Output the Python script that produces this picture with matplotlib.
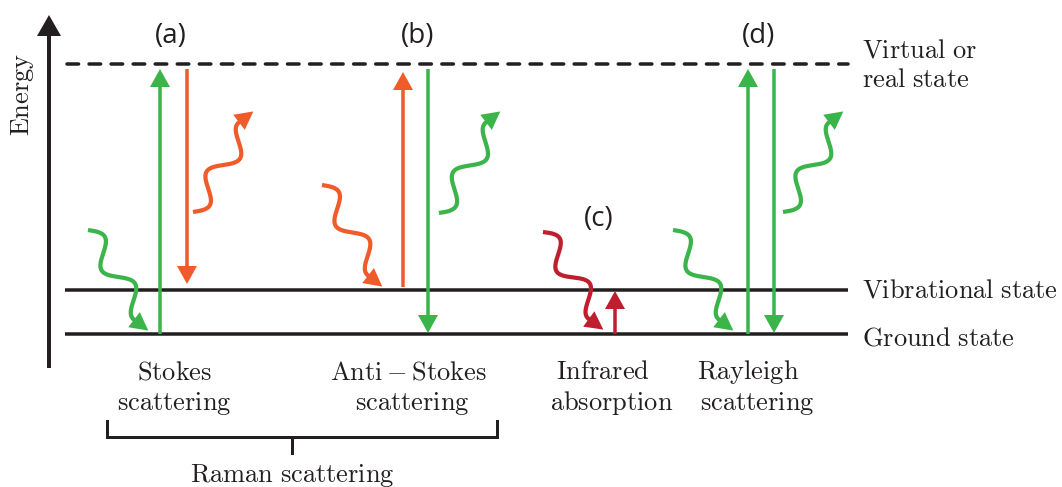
import numpy as np
import matplotlib
matplotlib.use('Agg')
import matplotlib.pyplot as plt
from matplotlib.patches import Polygon

plt.rcParams['mathtext.fontset'] = 'cm'

# colours
GREEN = '#3bb44a'
ORANGE = '#f15a29'
RED = '#be1e2d'
BLACK = '#231f20'

# energy levels (pixel rows) and their labels
LEVEL_Y = [64, 290, 334]
LEVEL_DASHED = [True, False, False]
LEVEL_LABELS = [['Virtual or', 'real state'], ['Vibrational state'], ['Ground state']]
LEVEL_LABEL_Y = [[57, 87], [297], [345]]
LEVEL_X0, LEVEL_X1 = 65, 848

# process letters
PANEL_LABELS = ['(a)', '(b)', '(c)', '(d)']
PANEL_X = [171, 418, 599, 759]
PANEL_Y = [36, 36, 219, 36]

# straight transitions: x, from, to, colour
TRANS_X = [160, 187, 403, 428, 615, 748, 774]
TRANS_FROM = [334, 69, 287, 69, 334, 334, 69]
TRANS_TO = [69, 284, 72, 333, 291, 69, 333]
TRANS_COL = [GREEN, ORANGE, ORANGE, GREEN, RED, GREEN, GREEN]

# photons (wavy arrows): start, tip, colour
PHOTON_START = [(88, 230), (193, 212), (322, 185), (439, 213), (543, 232), (673, 230), (783, 212)]
PHOTON_TIP = [(148, 331), (253, 111), (382, 287), (500, 111), (603, 330), (733, 331), (843, 111)]
PHOTON_COL = [GREEN, ORANGE, ORANGE, GREEN, RED, GREEN, GREEN]

# labels under each process
BOTTOM_LINE1 = ['Stokes', 'Anti-Stokes', 'Infrared', 'Rayleigh']
BOTTOM_LINE2 = ['scattering', 'scattering', 'absorption', 'scattering']
BOTTOM_X1 = [175, 408, 603, 748]
BOTTOM_X2 = [174, 412, 612, 757]

W, H = 1062, 487
PX = 0.72  # points per pixel at 100 dpi

fig = plt.figure(figsize=(W / 100, H / 100), dpi=100)
ax = fig.add_axes([0, 0, 1, 1])
ax.set_xlim(0, W)
ax.set_ylim(H, 0)
ax.axis('off')


def cm(s):
    return r'$\mathrm{' + s.replace(' ', r'\ ') + '}$'


def head(tip, d, length, width, color):
    d = np.asarray(d, float)
    d = d / np.linalg.norm(d)
    n = np.array([-d[1], d[0]])
    tip = np.asarray(tip, float)
    base = tip - length * d
    ax.add_patch(Polygon([tip, base + n * width / 2, base - n * width / 2],
                         closed=True, fc=color, ec='none', zorder=4))


def straight_arrow(x, y0, y1, color, lw=3.5, hl=18, hw=20):
    s = np.sign(y1 - y0)
    ax.plot([x, x], [y0, y1 - s * hl * 0.8], color=color, lw=lw * PX,
            solid_capstyle='butt', zorder=3)
    head((x, y1), (0, s), hl, hw, color)


def wavy_arrow(start, tip, color, n=1.8, amp=10.5, hl=18, hw=19):
    S = np.array(start, float)
    T = np.array(tip, float)
    d0 = (T - S) / np.linalg.norm(T - S)
    B = T - hl * d0
    perp = np.array([-d0[1], d0[0]])
    if perp[0] < 0:
        perp = -perp
    t = np.linspace(0, 1, 300)
    pts = S + np.outer(t, B - S) + np.outer(amp * np.sin(2 * np.pi * n * t), perp)
    tang = (B - S) + amp * 2 * np.pi * n * np.cos(2 * np.pi * n) * perp
    tip2 = pts[-1] + hl * tang / np.linalg.norm(tang)
    corr = T - tip2
    pts = pts + np.outer(t, corr)
    tang = tang + corr
    u = tang / np.linalg.norm(tang)
    tip2 = pts[-1] + hl * u
    line = np.vstack([pts, pts[-1] + 0.5 * hl * u])
    ax.plot(line[:, 0], line[:, 1], color=color, lw=4.2 * PX,
            solid_capstyle='butt', solid_joinstyle='round', zorder=3)
    head(tip2, u, hl, hw, color)


# energy axis
ax.plot([49, 49], [368, 30], color=BLACK, lw=4 * PX, solid_capstyle='butt')
head((49, 15), (0, -1), 21, 24, BLACK)
ax.text(23, 94, cm('Energy'), rotation=90, ha='center', va='center',
        fontsize=19, color=BLACK)

# levels
for y, dashed, labels, ly in zip(LEVEL_Y, LEVEL_DASHED, LEVEL_LABELS, LEVEL_LABEL_Y):
    if dashed:
        ax.plot([LEVEL_X0 + 2, LEVEL_X1], [y, y], color=BLACK, lw=3.5 * PX,
                linestyle=(0, (3.3, 3.0)), dash_capstyle='round')
    else:
        ax.plot([LEVEL_X0, LEVEL_X1], [y, y], color=BLACK, lw=3.5 * PX,
                solid_capstyle='butt')
    for s, yy in zip(labels, ly):
        ax.text(862, yy, cm(s), ha='left', va='baseline', fontsize=19, color=BLACK)

# transitions
for x, y0, y1, c in zip(TRANS_X, TRANS_FROM, TRANS_TO, TRANS_COL):
    straight_arrow(x, y0, y1, c)

# photons
for s, tp, c in zip(PHOTON_START, PHOTON_TIP, PHOTON_COL):
    wavy_arrow(s, tp, c)

# panel letters
for s, x, y in zip(PANEL_LABELS, PANEL_X, PANEL_Y):
    ax.text(x, y, s, ha='center', va='center', fontsize=20,
            family='Open Sans', color='#231f20')

# process names
for s1, s2, x1, x2 in zip(BOTTOM_LINE1, BOTTOM_LINE2, BOTTOM_X1, BOTTOM_X2):
    ax.text(x1, 379, cm(s1), ha='center', va='baseline', fontsize=19, color=BLACK)
    ax.text(x2, 410, cm(s2), ha='center', va='baseline', fontsize=19, color=BLACK)

# Raman bracket
ax.plot([107, 107, 497, 497], [421, 437, 437, 421], color=BLACK, lw=3 * PX,
        solid_joinstyle='miter')
ax.plot([292, 292], [437, 453], color=BLACK, lw=3 * PX)
ax.text(292, 482, cm('Raman scattering'), ha='center', va='baseline',
        fontsize=19, color=BLACK)

fig.savefig('out.png', dpi=100)
